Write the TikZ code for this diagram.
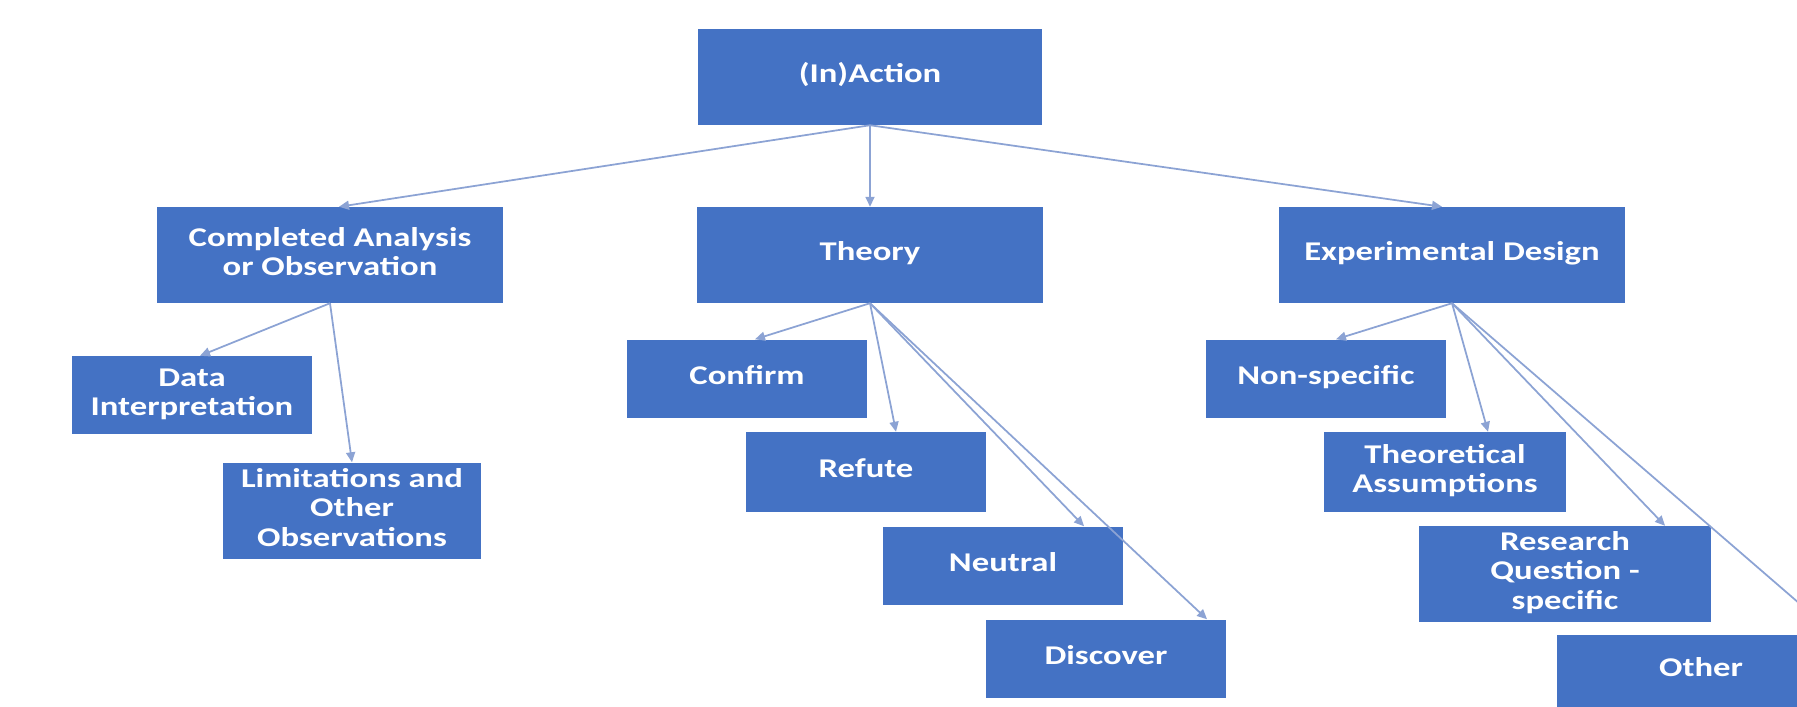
\documentclass[tikz,border=0pt]{standalone}
\usepackage{fontspec}
\setmainfont{Carlito}
\usepackage{graphicx}
\usetikzlibrary{positioning,arrows.meta}
\definecolor{boxblue}{HTML}{4472C4}
\definecolor{linkblue}{RGB}{140,163,212}
\newcommand{\widetxt}[1]{\scalebox{1.28}[1]{\begin{tabular}{@{}c@{}}#1\end{tabular}}}

\begin{document}
\begin{tikzpicture}[x=0.01cm,y=-0.01cm,
    box/.style={fill=boxblue,text=white,inner sep=0pt,font=\fontsize{7.7}{8.5}\selectfont\bfseries},
    link/.style={draw=linkblue,line width=0.5pt,-{Triangle[length=1mm,width=0.9mm]}}]
  \useasboundingbox (0,0) rectangle (1797,706);
  \node[box,minimum width=3.43cm,minimum height=0.95cm](inaction) at (870,77){\widetxt{(In)Action}};
  \node[box,minimum width=3.46cm,minimum height=0.95cm](completed) at (330,255){\widetxt{Completed Analysis\\or Observation}};
  \node[box,minimum width=3.45cm,minimum height=0.95cm](theory) at (870,255){\widetxt{Theory}};
  \node[box,minimum width=3.45cm,minimum height=0.95cm](expdesign) at (1452,255){\widetxt{Experimental Design}};
  \node[box,minimum width=2.40cm,minimum height=0.77cm](datainterp) at (192,395){\widetxt{Data\\Interpretation}};
  \node[box,minimum width=2.57cm,minimum height=0.96cm](limitations) at (352,511){\widetxt{Limitations and\\Other\\Observations}};
  \node[box,minimum width=2.40cm,minimum height=0.78cm](confirm) at (747,379){\widetxt{Confirm}};
  \node[box,minimum width=2.40cm,minimum height=0.79cm](refute) at (866,472){\widetxt{Refute}};
  \node[box,minimum width=2.40cm,minimum height=0.78cm](neutral) at (1003,566){\widetxt{Neutral}};
  \node[box,minimum width=2.40cm,minimum height=0.78cm](discover) at (1106,659){\widetxt{Discover}};
  \node[box,minimum width=2.40cm,minimum height=0.78cm](nonspecific) at (1326,379){\widetxt{Non-specific}};
  \node[box,minimum width=2.41cm,minimum height=0.79cm](assumptions) at (1445,472){\widetxt{Theoretical\\Assumptions}};
  \node[box,minimum width=2.91cm,minimum height=0.95cm](research) at (1565,574){\widetxt{Research\\Question -\\specific}};
  \node[box,minimum width=2.88cm,minimum height=0.72cm](other) at (1701,671){\widetxt{Other}};

  \draw[link] (inaction.south) -- ([xshift=0.09cm]completed.north);
  \draw[link] (inaction.south) -- (theory.north);
  \draw[link] (inaction.south) -- ([xshift=-0.1cm]expdesign.north);
  \draw[link] (completed.south) -- ([xshift=0.08cm]datainterp.north);
  \draw[link] (completed.south) -- (limitations.north);
  \draw[link] (theory.south) -- ([xshift=0.08cm]confirm.north);
  \draw[link] (theory.south) -- ([xshift=0.3cm]refute.north);
  \draw[link] (theory.south) -- ([xshift=0.81cm]neutral.north);
  \draw[link] (theory.south) -- ([xshift=1.01cm]discover.north);
  \draw[link] (expdesign.south) -- ([xshift=0.1cm]nonspecific.north);
  \draw[link] (expdesign.south) -- ([xshift=0.43cm]assumptions.north);
  \draw[link] (expdesign.south) -- ([xshift=1cm]research.north);
  \draw[link] (expdesign.south) -- ([xshift=1.34cm]other.north);
\end{tikzpicture}
\end{document}
